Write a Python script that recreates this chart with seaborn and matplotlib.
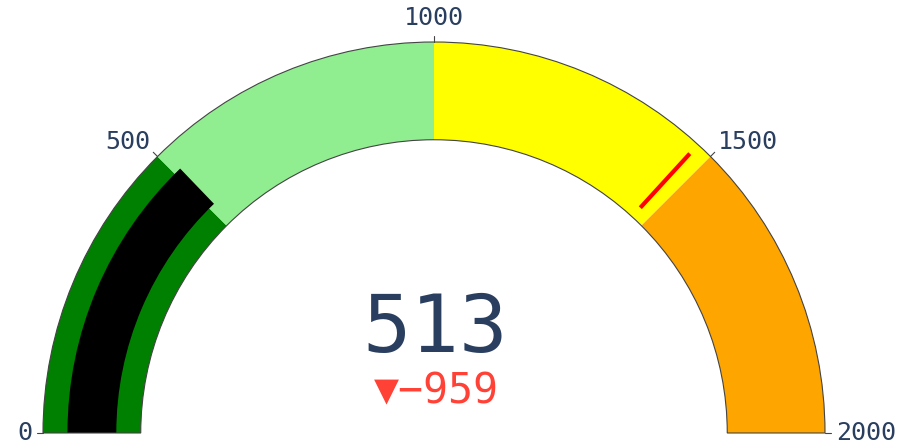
import numpy as np
import seaborn as sns
import matplotlib.pyplot as plt
from matplotlib.patches import Wedge

# gauge data
axis_min, axis_max = 0, 2000
tick_values = [0, 500, 1000, 1500, 2000]
step_ranges = [(0, 500), (500, 1000), (1000, 1500), (1500, 2000)]
step_colors = ["green", "lightgreen", "yellow", "orange"]
value = 513
reference = 1472
threshold = 1472
bar_color = "black"
threshold_color = "red"

sns.set_theme(style="white")
plt.rcParams["font.family"] = ["DejaVu Sans Mono", "DejaVu Sans"]

text_color = "#2a3f5f"
fig = plt.figure(figsize=(9.13, 4.47), dpi=100)
ax = fig.add_axes([0, 0, 1, 1])
ax.set_xlim(0, 913)
ax.set_ylim(0, 447)
ax.set_aspect("equal")
ax.axis("off")

cx, cy = 434, 14
R = 391
Rin = 0.75 * R
thick = R - Rin
mid = (R + Rin) / 2


def ang(v):
    return 180 - (v - axis_min) / (axis_max - axis_min) * 180


# steps
for (a, b), c in zip(step_ranges, step_colors):
    ax.add_patch(Wedge((cx, cy), R, ang(b), ang(a), width=thick, fc=c, ec="none"))

# bar
bar_out = mid + 0.25 * thick
ax.add_patch(Wedge((cx, cy), bar_out, ang(value), ang(axis_min), width=0.5 * thick,
                   fc=bar_color, ec="none"))

# threshold line
t = np.deg2rad(ang(threshold))
r1, r2 = mid - 0.375 * thick, mid + 0.375 * thick
ax.plot([cx + r1 * np.cos(t), cx + r2 * np.cos(t)],
        [cy + r1 * np.sin(t), cy + r2 * np.sin(t)],
        color=threshold_color, lw=3, solid_capstyle="butt")

# border
ax.add_patch(Wedge((cx, cy), R, 0, 180, width=thick, fc="none", ec="#444444", lw=0.8))

# ticks and labels
for v in tick_values:
    a = np.deg2rad(ang(v))
    ax.plot([cx + R * np.cos(a), cx + (R + 6) * np.cos(a)],
            [cy + R * np.sin(a), cy + (R + 6) * np.sin(a)],
            color="#444444", lw=0.8)
    deg = ang(v)
    if deg > 150:
        ha, va, rr = "right", "center", R + 11
    elif deg < 30:
        ha, va, rr = "left", "center", R + 11
    elif deg > 100:
        ha, va, rr = "right", "baseline", R + 10
    elif deg < 80:
        ha, va, rr = "left", "baseline", R + 10
    else:
        ha, va, rr = "center", "baseline", R + 17
    ax.text(cx + rr * np.cos(a), cy + rr * np.sin(a), f"{v}", ha=ha, va=va,
            fontsize=18, color=text_color)

# number and delta
ax.text(cx + 1, 447 - 330, f"{value}", ha="center", va="center",
        fontsize=58, color=text_color)
delta = value - reference
ax.text(cx + 2, 447 - 391, f"\u25bc\u2212{abs(delta)}", ha="center", va="center",
        fontsize=30, color="#FF4136")

fig.savefig("out.png", dpi=100, facecolor="white")
